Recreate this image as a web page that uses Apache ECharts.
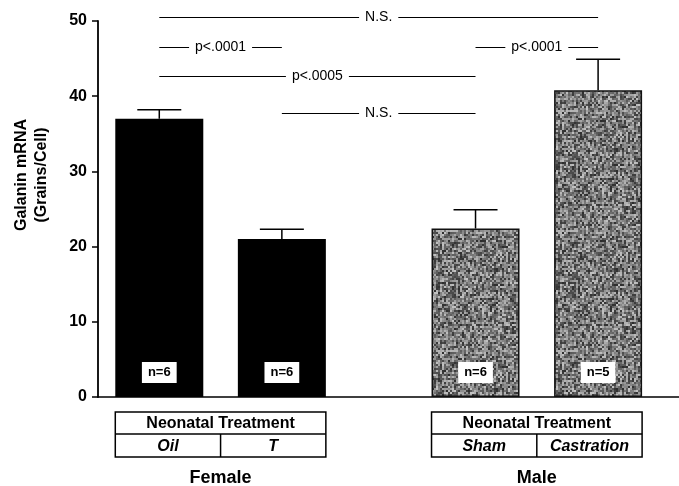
<!DOCTYPE html>
<html>
<head>
<meta charset="utf-8">
<script src="https://cdn.jsdelivr.net/npm/echarts@6/dist/echarts.min.js"></script>
<style>html,body{margin:0;padding:0;background:#fff}#main{width:679px;height:486px}</style>
</head>
<body>
<div id="main"></div>
<script>
// values
var treatments = ['Oil', 'T', 'Sham', 'Castration'];
var sexes = ['Female', 'Male'];
var barPositions = [0.5, 1.5, 3.08, 4.08];
var means = [37.0, 21.0, 22.4, 40.8];
var upperErrors = [38.2, 22.3, 24.9, 44.9];
var sampleSizes = [6, 6, 6, 5];
// [from bar, to bar, height, label]
var comparisons = [
    [0, 3, 50.5, 'N.S.'],
    [0, 1, 46.6, 'p<.0001'],
    [2, 3, 46.6, 'p<.0001'],
    [0, 2, 42.7, 'p<.0005'],
    [1, 2, 37.7, 'N.S.']
];

var FONT = '"Liberation Sans", Arial, Helvetica, sans-serif';
var BAR_W = 88;

// speckled grey fill for the male bars (fixed hash, no randomness)
function hash(x, y) {
    var h = Math.imul(x, 374761393) + Math.imul(y, 668265263);
    h = Math.imul(h ^ (h >>> 13), 1274126177);
    h = h ^ (h >>> 16);
    return (h >>> 0) / 4294967296;
}
function grainPattern() {
    var n = 120, cell = 2;
    var c = document.createElement('canvas');
    c.width = c.height = n;
    var ctx = c.getContext('2d');
    for (var y = 0; y < n; y += cell) {
        for (var x = 0; x < n; x += cell) {
            var v = Math.round(45 + hash(x, y) * 150);
            ctx.fillStyle = 'rgb(' + v + ',' + v + ',' + v + ')';
            ctx.fillRect(x, y, cell, cell);
        }
    }
    return c;
}
var grain = { image: grainPattern(), repeat: 'repeat' };

var barData = means.map(function (m, i) {
    var male = i >= 2;
    return {
        value: [barPositions[i], m],
        itemStyle: male ? { color: grain, borderColor: '#111', borderWidth: 1.5 } : { color: '#000' },
        label: { formatter: 'n=' + sampleSizes[i] }
    };
});

var errData = means.map(function (m, i) {
    return [barPositions[i], m, upperErrors[i]];
});

var compData = comparisons.map(function (c) {
    return [barPositions[c[0]], barPositions[c[1]], c[2]];
});

var myChart = echarts.init(document.getElementById('main'));
var option = {
    animation: false,
    backgroundColor: '#fff',
    grid: { left: 98, right: 0, top: 21, bottom: 89 },
    xAxis: {
        type: 'value',
        min: 0,
        max: 4.74,
        axisLine: { show: true, lineStyle: { color: '#000', width: 1.5 } },
        axisTick: { show: false },
        axisLabel: { show: false },
        splitLine: { show: false }
    },
    yAxis: {
        type: 'value',
        min: 0,
        max: 50,
        interval: 10,
        axisLine: { show: true, lineStyle: { color: '#000', width: 1.8 } },
        axisTick: { show: true, length: 6, lineStyle: { color: '#000', width: 1.5 } },
        axisLabel: { color: '#000', fontFamily: FONT, fontWeight: 'bold', fontSize: 16, margin: 11 },
        splitLine: { show: false }
    },
    series: [
        {
            type: 'bar',
            barWidth: BAR_W,
            data: barData,
            label: {
                show: true,
                position: 'insideBottom',
                distance: 14,
                color: '#000',
                backgroundColor: '#fff',
                padding: [4, 6],
                fontFamily: FONT,
                fontWeight: 'bold',
                fontSize: 13
            }
        },
        {
            type: 'custom',
            z: 3,
            data: errData,
            renderItem: function (params, api) {
                var p0 = api.coord([api.value(0), api.value(1)]);
                var p1 = api.coord([api.value(0), api.value(2)]);
                var hw = 22;
                return {
                    type: 'group',
                    children: [
                        { type: 'line', shape: { x1: p0[0], y1: p0[1], x2: p1[0], y2: p1[1] }, style: { stroke: '#000', lineWidth: 1.5 } },
                        { type: 'line', shape: { x1: p1[0] - hw, y1: p1[1], x2: p1[0] + hw, y2: p1[1] }, style: { stroke: '#000', lineWidth: 1.5 } }
                    ]
                };
            }
        },
        {
            // significance brackets
            type: 'custom',
            z: 4,
            clip: false,
            data: compData,
            renderItem: function (params, api) {
                var a = api.coord([api.value(0), api.value(2)]);
                var b = api.coord([api.value(1), api.value(2)]);
                var y = Math.round(a[1]) + 0.5;
                return {
                    type: 'group',
                    children: [
                        { type: 'line', shape: { x1: a[0], y1: y, x2: b[0], y2: y }, style: { stroke: '#000', lineWidth: 1 } },
                        {
                            type: 'text',
                            x: (a[0] + b[0]) / 2,
                            y: y,
                            style: {
                                text: comparisons[params.dataIndex][3],
                                font: '14px ' + FONT,
                                fill: '#000',
                                align: 'center',
                                verticalAlign: 'middle',
                                backgroundColor: '#fff',
                                padding: [2, 6]
                            }
                        }
                    ]
                };
            }
        }
    ]
};
myChart.setOption(option);

// axis title and treatment tables under each group
var base = myChart.convertToPixel({ yAxisIndex: 0 }, 0);
var midY = myChart.convertToPixel({ yAxisIndex: 0 }, 25);
var graphics = [{
    type: 'text',
    x: 32,
    y: midY - 34,
    rotation: Math.PI / 2,
    style: {
        text: 'Galanin mRNA\n(Grains/Cell)',
        font: 'bold 16px ' + FONT,
        fill: '#000',
        align: 'center',
        verticalAlign: 'middle',
        lineHeight: 20
    }
}];
var ln = { stroke: '#000', lineWidth: 1.5, fill: null };
sexes.forEach(function (sex, g) {
    var a = myChart.convertToPixel({ xAxisIndex: 0 }, barPositions[g * 2]);
    var b = myChart.convertToPixel({ xAxisIndex: 0 }, barPositions[g * 2 + 1]);
    var x0 = a - BAR_W / 2, x1 = b + BAR_W / 2, xm = (x0 + x1) / 2;
    var t0 = base + 15, t1 = base + 37, t2 = base + 60;
    graphics.push(
        { type: 'rect', shape: { x: x0, y: t0, width: x1 - x0, height: t2 - t0 }, style: ln },
        { type: 'line', shape: { x1: x0, y1: t1, x2: x1, y2: t1 }, style: ln },
        { type: 'line', shape: { x1: xm, y1: t1, x2: xm, y2: t2 }, style: ln },
        { type: 'text', x: xm, y: (t0 + t1) / 2 + 1, style: { text: 'Neonatal Treatment', font: 'bold 16px ' + FONT, fill: '#000', align: 'center', verticalAlign: 'middle' } },
        { type: 'text', x: (x0 + xm) / 2, y: (t1 + t2) / 2 + 1, style: { text: treatments[g * 2], font: 'italic bold 16px ' + FONT, fill: '#000', align: 'center', verticalAlign: 'middle' } },
        { type: 'text', x: (xm + x1) / 2, y: (t1 + t2) / 2 + 1, style: { text: treatments[g * 2 + 1], font: 'italic bold 16px ' + FONT, fill: '#000', align: 'center', verticalAlign: 'middle' } },
        { type: 'text', x: xm, y: base + 81, style: { text: sex, font: 'bold 18px ' + FONT, fill: '#000', align: 'center', verticalAlign: 'middle' } }
    );
});
myChart.setOption({ graphic: graphics });
</script>
</body>
</html>
